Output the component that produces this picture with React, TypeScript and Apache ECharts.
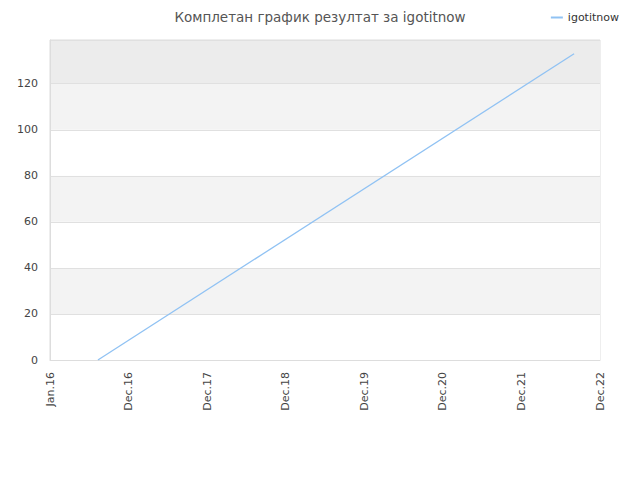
import React, { useEffect, useRef } from 'react';
import * as echarts from 'echarts';

// x positions are in "label steps": 0 = Jan.16, 1 = Dec.16, ... 7 = Dec.22
const xLabels = ['Jan.16', 'Dec.16', 'Dec.17', 'Dec.18', 'Dec.19', 'Dec.20', 'Dec.21', 'Dec.22'];
const seriesName = 'igotitnow';
const pointX = [0.61, 6.67];
const pointY = [0, 133];
const bandColors = ['#ffffff', '#f3f3f3', '#ffffff', '#f3f3f3', '#ffffff', '#f3f3f3', '#ececec'];

const App: React.FC = () => {
  const chartRef = useRef<HTMLDivElement>(null);

  useEffect(() => {
    if (!chartRef.current) return;
    const chart = echarts.init(chartRef.current, undefined, { renderer: 'svg' });

    const option = {
      animation: false,
      textStyle: { fontFamily: 'DejaVu Sans' },
      title: {
        text: 'Комплетан график резултат за igotitnow',
        left: 'center',
        top: 5,
        textStyle: { fontSize: 13.5, fontWeight: 'normal', color: '#555', fontFamily: 'DejaVu Sans' }
      },
      legend: {
        right: 16,
        top: 7,
        itemWidth: 12,
        itemHeight: 2,
        itemGap: 10,
        icon: 'rect',
        textStyle: { fontSize: 11, color: '#333' },
        data: [seriesName]
      },
      grid: {
        left: 50,
        right: 40,
        top: 40,
        bottom: 120,
        show: true,
        borderColor: '#dddddd',
        borderWidth: 1,
        backgroundColor: 'transparent'
      },
      xAxis: {
        type: 'value',
        min: 0,
        max: 7,
        interval: 1,
        axisLine: { show: true, lineStyle: { color: '#dddddd' } },
        axisTick: { show: false },
        splitLine: { show: false },
        axisLabel: {
          rotate: 90,
          margin: 12,
          fontSize: 11,
          color: '#444',
          formatter: (v: number) => xLabels[Math.round(v)] ?? ''
        }
      },
      yAxis: {
        type: 'value',
        min: 0,
        max: 139,
        interval: 20,
        axisLine: { show: true, lineStyle: { color: '#dddddd' } },
        axisTick: { show: false },
        axisLabel: {
          margin: 12,
          fontSize: 11,
          color: '#444',
          showMaxLabel: false
        },
        splitLine: { show: true, lineStyle: { color: '#e0e0e0' } },
        splitArea: { show: true, areaStyle: { color: bandColors } }
      },
      series: [
        {
          name: seriesName,
          type: 'line',
          symbol: 'none',
          data: pointX.map((x, i) => [x, pointY[i]]),
          lineStyle: { width: 1.3, color: '#90c2f3' },
          itemStyle: { color: '#90c2f3' }
        }
      ]
    };

    chart.setOption(option);
    return () => {
      chart.dispose();
    };
  }, []);

  return <div ref={chartRef} style={{ width: 640, height: 480, margin: -8 }} />;
};

export default App;
